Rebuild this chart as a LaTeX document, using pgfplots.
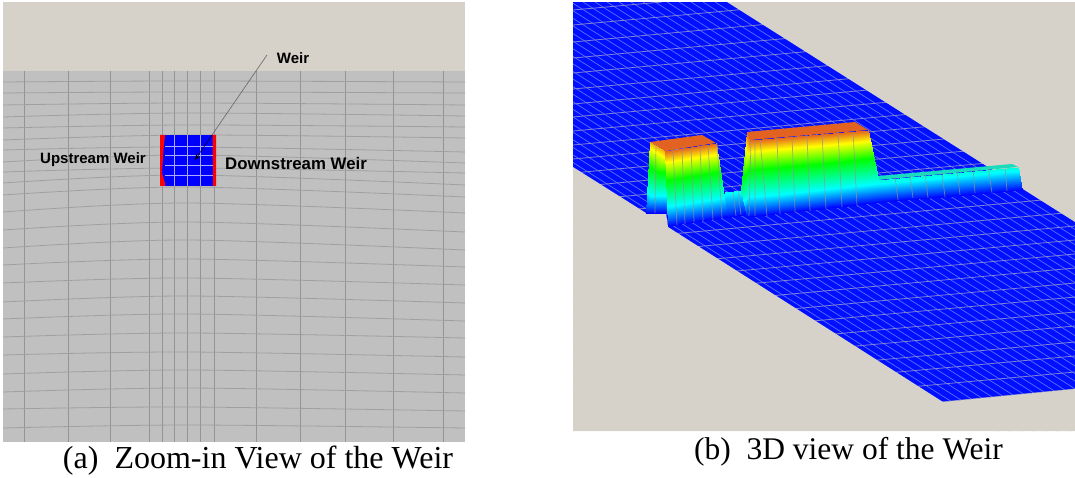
\documentclass[border=0pt]{standalone}
\usepackage{fontspec}
\setmainfont{Liberation Serif}
\newfontfamily\labelfont{Liberation Sans}
\usepackage{pgfplots}
\pgfplotsset{compat=1.18}
\usepgfplotslibrary{patchplots}
\usetikzlibrary{arrows.meta}
\definecolor{sand}{RGB}{214,209,201}
\definecolor{meshgray}{RGB}{192,192,192}
\definecolor{gridgray}{RGB}{148,148,148}
\definecolor{gridlight}{RGB}{160,160,160}
\definecolor{bluefill}{RGB}{0,15,255}
\definecolor{crossline}{RGB}{130,130,210}
\definecolor{diagline}{RGB}{90,110,255}
\definecolor{facegrid}{RGB}{140,150,150}
\definecolor{topface}{RGB}{226,98,34}
\definecolor{stripface}{RGB}{25,220,190}
\definecolor{boxline}{RGB}{170,170,255}
\begin{document}
\begin{tikzpicture}
\begin{axis}[
    scale only axis,
    width=1075pt,
    height=478pt,
    xmin=0, xmax=1075,
    ymin=0, ymax=478,
    y dir=reverse,
    hide axis,
    point meta min=0,
    point meta max=1,
    colormap={weirmap}{rgb255(0cm)=(0,0,255); rgb255(26cm)=(0,255,255); rgb255(61cm)=(0,255,0); rgb255(85cm)=(255,255,0); rgb255(100cm)=(228,98,32)},
]
% page background, also fixes the picture's extent
\addplot[fill=white, draw=none] coordinates {(0,0)(1075,0)(1075,478)(0,478)} --cycle;
% ---- panel (a) zoom-in view
\addplot[fill=sand, draw=none] coordinates {(3,2)(465,2)(465,71)(3,71)} --cycle;
\addplot[fill=meshgray, draw=none] coordinates {(3,71)(465,71)(465,442)(3,442)} --cycle;
\addplot[gridgray, line width=0.9pt] table {
x y
24 71
24 442

68 71
68 442

110 71
110 442

149 71
149 442

162 71
162 442

174 71
174 442

187 71
187 442

200 71
200 442

214 71
214 442

256 71
256 442

300 71
300 442

345 71
345 442

393 71
393 442

443 71
443 442
};
\addplot[gridlight, line width=0.8pt, smooth] table {
x y
3 82
187 81
465 82

3 93
187 92
465 93

3 105
187 103
465 105

3 117
187 113
465 116

3 128
187 125
465 127

3 140
187 135
465 138

3 150
187 147
465 152

3 162
187 155
465 163

3 172
187 168
465 173

3 183
187 175
465 185

3 195
187 187
465 197

3 212
187 203
465 213

3 230
187 222
465 232

3 248
187 240
465 250

3 265
187 259
465 267

3 283
187 278
465 285

3 302
187 296
465 303

3 319
187 314
465 321

3 337
187 333
465 338

3 355
187 352
465 357

3 374
187 370
465 375

3 392
187 388
465 393

3 409
187 407
465 411

3 428
187 425
465 428
};
% weir box
\addplot[fill=blue, draw=none] coordinates {(160,135)(216,135)(216,186)(160,186)} --cycle;
\addplot[fill=red, draw=none] coordinates {(160,135)(165,135)(163.5,150)(162,173)(165,183)(165,186)(160,186)} --cycle;
\addplot[fill=red, draw=none] coordinates {(212.5,135)(216,135)(216,186)(213,186)} --cycle;
\addplot[boxline, line width=0.5pt] table {
x y
174 135
174 186

187 135
187 186

200 135
200 186

165 146
213 146

165 155
213 155

165 165
213 165

165 175
213 175
};
\addplot[black!60, line width=0.6pt] coordinates {(267,55)(212,135)};
\addplot[black, line width=0.5pt, -{Stealth[length=6pt,width=5pt]}] coordinates {(212,135)(195,160)};
% ---- panel (b) 3D view
\addplot[fill=bluefill, draw=none] coordinates {(573,2)(1075,2)(1075,431)(573,431)} --cycle;
% long lines, parallel to the channel edge
\addplot[diagline, line width=0.7pt] table {
x y
715 2
1075 229.5

703 2
1075 237.1

691 2
1075 244.7

679 2
1075 252.3

667 2
1075 259.9

655 2
1075 267.4

643 2
1075 275

631 2
1075 282.6

619 2
1075 290.2

607 2
1075 297.8

595 2
1075 305.4

583 2
1075 312.9

573 3.3
1075 320.5

573 10.8
1075 328.1

573 18.4
1075 335.7

573 26
1075 343.3

573 33.6
1075 350.9

573 41.2
1075 358.4

573 48.8
1075 366

573 56.4
1075 373.6

573 63.9
1075 381.2

573 71.5
1075 388.8

573 79.1
1075 396.4

573 86.7
1075 404

573 94.3
1075 411.5

573 101.9
1075 419.1

573 109.4
1075 426.7

573 117
1070 431

573 124.6
1058 431

573 132.2
1046 431

573 139.8
1034 431

573 147.4
1022 431

573 154.9
1010 431

573 162.5
998 431
};
% cross lines
\addplot[crossline, line width=0.8pt] table {
x y
573 10
662 2

573 25
846 0

573 42
1031 0

573 58
1075 12

573 73
1075 27

573 89
1075 43

573 104
1075 58

573 117
1075 71

573 131
1075 85

573 145
1075 99

573 159
1075 113

573 173
1075 127

573 187
1075 141

573 201
1075 155

573 215
1075 169

573 229
1075 183

573 243
1075 197

573 258
1075 212

573 272
1075 226

573 286
1075 240

573 300
1075 254

573 314
1075 268

573 329
1075 283

573 343
1075 297

573 358
1075 312

573 372
1075 326

573 388
1075 342

700 390
1075 356

700 406
1075 372

900 406
1075 389
};
% sand overlays outside the channel
\addplot[fill=sand, draw=none] coordinates {(727,2)(1075,2)(1075,222)} --cycle;
\addplot[fill=sand, draw=none] coordinates {(573,167)(646,213)(666,213)(668,227)(943,402)(1075,389)(1075,431)(573,431)} --cycle;
\addplot[fill=white, draw=none] coordinates {(573,0)(1075,0)(1075,2)(573,2)} --cycle;
% raised weir faces, back to front
\addplot[fill=topface, draw=none] coordinates {(650,142)(702,135)(716,143)(665,151)} --cycle;
\addplot[fill=topface, draw=none] coordinates {(747,132)(855,122)(868,130)(750,140)} --cycle;
\addplot[fill=stripface, draw=none] coordinates {(878,176)(1012,164)(1018,167)(878,180)} --cycle;
\addplot[patch, patch type=rectangle, shader=interp, point meta=explicit] table[meta=h] {
x y h
650 142 0.93
665 151 0.93
668 213 0
646 213 0

725 192 0.28
743 190 0.28
748 214 0
725 218 0

665 151 1
716 143 1
727 217 0
668 226 0

747 132 1
750 140 1
747 217 0
741 190 0.45

750 140 1
868 130 1
883 202 0
747 217 0

878 180 0.31
1018 167 0.31
1022 190 0
883 202 0
};
\addplot[facegrid, opacity=0.75, line width=0.7pt] table {
x y
656 143
655 213

673 150
677 225

682 149
685 224

691 148
694 222

700 146
703 221

708 145
713 220

717 143
722 218

733 192
736 216

738 191
741 215

751 140
749 216

755 140
755 216

760 139
767 216

777 138
780 214

792 136
795 212

807 135
810 211

822 134
826 209

838 132
842 207

853 131
857 206

895 177
898 200

910 175
913 198

925 173
928 198

942 172
945 197

957 170
960 195

973 168
975 193

988 167
992 193

1005 166
1007 191
};
% ---- labels
\node[font=\labelfont\bfseries\fontsize{15}{18}\selectfont, anchor=center] at (axis cs:293,58) {Weir};
\node[font=\labelfont\bfseries\fontsize{15}{18}\selectfont, anchor=center] at (axis cs:93,160) {Upstream Weir};
\node[font=\labelfont\bfseries\fontsize{16.8}{20}\selectfont, anchor=center] at (axis cs:296,163) {Downstream Weir};
\node[font=\fontsize{32}{36}\selectfont, anchor=base] at (axis cs:258,468) {(a)\ \ Zoom-in View of the Weir};
\node[font=\fontsize{31.5}{36}\selectfont, anchor=base] at (axis cs:848.5,459) {(b)\ \ 3D view of the Weir};
\end{axis}
\end{tikzpicture}
\end{document}
